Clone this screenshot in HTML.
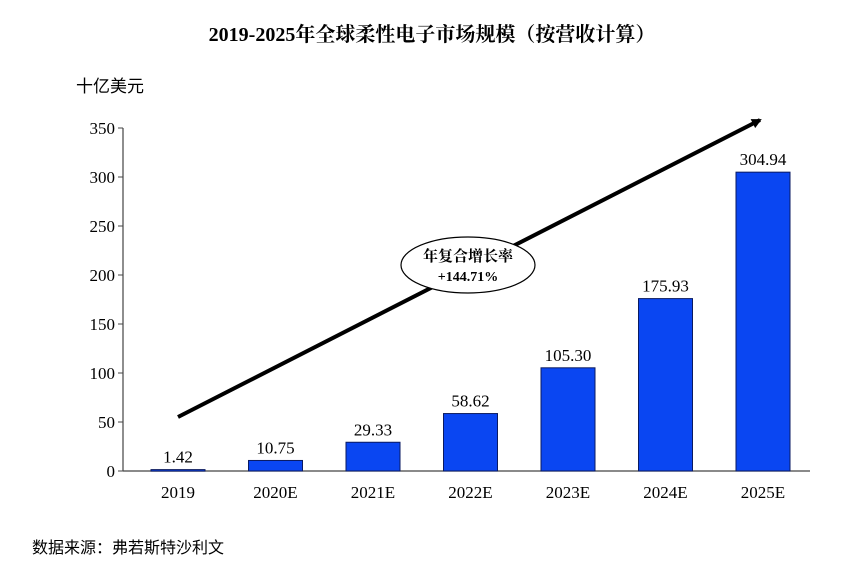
<!DOCTYPE html>
<html><head><meta charset="utf-8"><style>
body{margin:0;background:#fff;}
svg{display:block;font-family:"Liberation Serif","Noto Serif CJK SC",serif;}
</style></head><body>
<svg id="chart" width="865" height="563">
<text x="432" y="41" text-anchor="middle" font-size="20" font-weight="bold">2019-2025年全球柔性电子市场规模（按营收计算）</text>
<text x="76" y="92" font-size="17" font-family="Liberation Sans,Noto Sans CJK SC,sans-serif">十亿美元</text>
<text x="32" y="553" font-size="16" font-family="Liberation Sans,Noto Sans CJK SC,sans-serif">数据来源：弗若斯特沙利文</text>
<g id="axes"></g>
<g id="bars"></g>
<defs><marker id="ah" markerWidth="10" markerHeight="10" refX="8" refY="5" orient="auto" markerUnits="userSpaceOnUse"><path d="M0,0 L10,5 L0,10 Z" fill="#000"/></marker></defs>
<line x1="178" y1="417" x2="760" y2="120" stroke="#000" stroke-width="4" marker-end="url(#ah)"/>
<ellipse cx="468" cy="265" rx="67" ry="28" fill="#fff" stroke="#000" stroke-width="1.2"/>
<text x="468" y="261" text-anchor="middle" font-size="15" font-weight="bold">年复合增长率</text>
<text x="468" y="281" text-anchor="middle" font-size="14" font-weight="bold">+144.71%</text>
</svg>
<script>
const categories=["2019","2020E","2021E","2022E","2023E","2024E","2025E"];
const values=[1.42,10.75,29.33,58.62,105.30,175.93,304.94];
const labels=["1.42","10.75","29.33","58.62","105.30","175.93","304.94"];
const yTicks=[0,50,100,150,200,250,300,350];
const NS="http://www.w3.org/2000/svg";
const x0=123,x1=810,yBase=471,yTop=128,yMax=350;
const step=97.5,firstC=178,bw=54;
function yS(v){return yBase-(v/yMax)*(yBase-yTop);}
function xS(i){return firstC+i*step;}
function mk(t,a,p){const e=document.createElementNS(NS,t);for(const k in a)e.setAttribute(k,a[k]);p.appendChild(e);return e;}
const ax=document.getElementById('axes'),bg=document.getElementById('bars');
const yl=mk('line',{x1:x0,y1:yTop,x2:x0,y2:yBase,stroke:'#444','stroke-width':1.2},ax);


const xl=mk('line',{x1:x0,y1:yBase,x2:x1,y2:yBase,stroke:'#444','stroke-width':1.2},ax);


yTicks.forEach(v=>{
  const tk=mk('line',{x1:x0-5,y1:yS(v),x2:x0,y2:yS(v),stroke:'#444'},ax);
  
  
  const t=mk('text',{x:x0-8,y:yS(v)+6,'text-anchor':'end','font-size':17},ax);
  t.textContent=v;
  
  
});
categories.forEach((c,i)=>{
  const cx=xS(i),y=yS(values[i]);
  const r=mk('rect',{x:cx-bw/2,y:y,width:bw,height:Math.max(yBase-y,1.5),fill:'#0a46f2',stroke:'#0a1a60','stroke-width':1},bg);
  
  
  const v=mk('text',{x:cx,y:y-7,'text-anchor':'middle','font-size':17},bg);
  v.textContent=labels[i];
  
  
  const t=mk('text',{x:cx,y:yBase+27,'text-anchor':'middle','font-size':17},bg);
  t.textContent=c;
  
  
});
</script>
</body></html>
